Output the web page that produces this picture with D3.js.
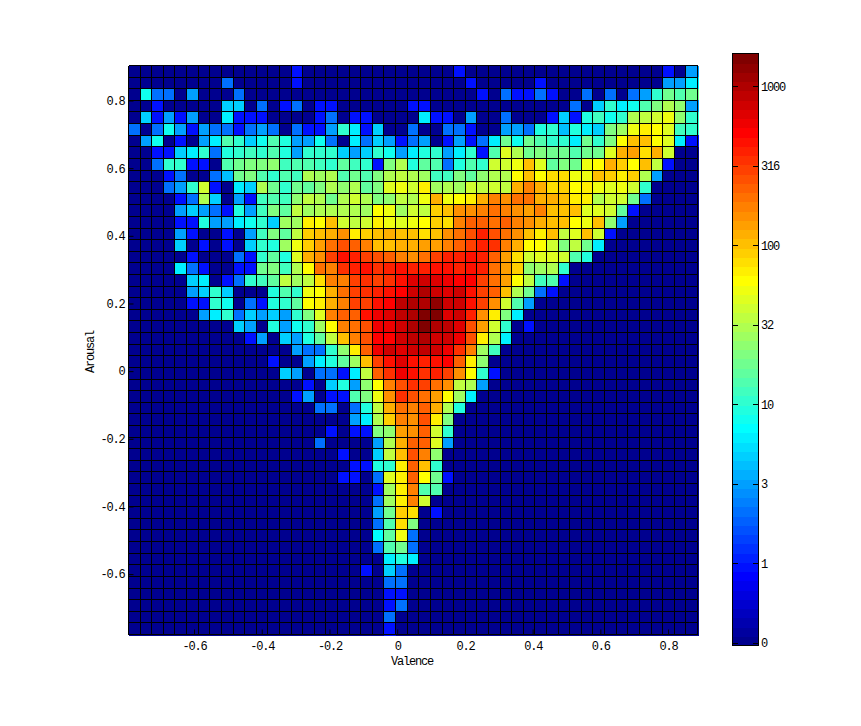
<!DOCTYPE html>
<html>
<head>
<meta charset="utf-8">
<script src="https://d3js.org/d3.v7.min.js"></script>
<style>
html, body { margin: 0; padding: 0; background: #fff; }
svg { display: block; }
text { font-family: "Liberation Mono", monospace; font-size: 12px; letter-spacing: -1.2px; fill: #000; }
</style>
</head>
<body>
<svg id="chart" width="861" height="726"></svg>
<script>
'use strict';

// counts per bin, top row first, one number per valence bin (zeros at the end of a row left out)
var arrayCounts = [
	[0,0,0,0,0,0,0,0,0,0, 0,0,0,0,1,0,0,0,0,0, 0,0,0,0,0,0,0,0,1,0, 0,0,0,0,0,0,0,0,0,0, 0,0,0,0,0,0,1,0,3],
	[0,0,0,0,0,0,0,0,2,0, 0,0,0,0,1,0,0,0,0,0, 0,0,0,0,0,0,0,0,0,1, 0,0,0,0,0,1,0,0,0,0, 0,0,0,0,0,0,3,3,6],
	[0,8,2,2,0,3,0,0,0,2, 0,0,0,0,0,0,0,0,0,0, 0,0,0,0,0,0,0,0,0,0, 1,0,2,1,1,2,1,0,0,2, 0,2,0,2,3,11,18,14,18],
	[0,0,1,0,0,0,0,0,5,5, 0,2,0,1,2,0,1,1,0,0, 0,0,0,0,1,1,0,0,0,0, 0,0,0,0,0,0,0,0,2,0, 5,11,6,8,14,20,31,24,3],
	[0,5,1,3,1,3,0,0,6,1, 1,1,0,0,0,0,1,2,0,1, 1,0,0,0,0,6,1,1,0,3, 0,0,2,0,0,0,1,5,1,9, 12,8,10,31,35,41,54,24,11],
	[2,0,2,8,3,1,3,2,2,1, 2,3,2,0,2,1,1,3,11,6, 1,5,0,0,2,0,0,2,2,1, 0,0,3,3,2,9,10,4,9,6, 5,20,27,54,71,60,48,12,11],
	[0,3,8,0,1,0,3,6,14,11, 5,8,14,9,3,3,8,2,0,6, 2,5,3,1,2,3,0,1,3,1, 2,6,18,8,18,14,10,11,6,18, 11,20,60,105,105,60,48,6,1],
	[0,0,1,1,5,6,11,2,9,11, 12,10,14,9,3,10,11,10,5,3, 5,11,8,3,6,9,11,3,6,10, 1,14,48,31,18,20,18,18,14,18, 18,48,120,135,80,115,41],
	[0,0,2,10,11,1,1,0,14,18, 20,22,24,12,14,14,12,11,16,12, 11,1,20,31,9,16,14,2,9,14, 11,41,41,54,105,48,16,20,18,54, 60,125,92,60,110,36,1],
	[0,0,0,1,2,0,0,2,4,18, 20,14,11,14,12,31,27,31,14,18, 14,20,31,36,31,27,12,12,20,16, 24,31,31,60,105,60,80,80,54,54, 100,92,71,92,31,3],
	[0,0,0,2,3,11,41,1,0,6, 5,31,18,11,18,16,20,31,24,31, 16,20,48,54,41,71,27,31,27,41, 36,41,36,120,180,120,80,92,60,71, 54,48,54,41,11],
	[0,0,0,0,1,2,31,5,0,3, 1,12,14,12,24,36,31,18,31,41, 31,20,24,36,31,54,120,54,60,71, 125,180,158,190,207,120,115,100,71,71, 31,41,41,18,2],
	[0,0,0,0,3,5,3,2,1,9, 3,12,20,16,36,27,31,31,31,31, 27,60,54,27,41,36,85,105,158,158, 180,207,180,158,135,180,105,100,105,48, 48,41,16,1],
	[0,0,0,0,1,1,9,3,3,6, 8,11,5,27,27,71,60,110,41,36, 41,71,54,48,54,60,92,80,180,240, 240,207,240,180,158,120,105,100,60,54, 100,24,3],
	[0,0,0,0,3,1,0,0,1,0, 3,12,20,16,36,92,100,120,158,71, 85,105,125,110,100,80,100,158,207,270, 400,270,207,158,110,71,100,36,48,105, 41,1],
	[0,0,0,0,5,0,1,0,1,0, 5,11,9,27,54,92,140,207,270,240, 180,110,105,120,125,135,140,180,240,310, 400,350,180,120,60,60,41,20,36,18, 6],
	[0,0,0,0,0,1,0,0,0,2, 1,10,16,9,48,120,158,310,460,400, 310,270,240,180,158,207,310,380,380,460, 400,240,140,80,41,48,48,41,14,9],
	[0,0,0,0,6,2,1,0,0,1, 1,18,20,12,31,60,207,180,350,400, 430,350,400,460,400,380,460,430,400,460, 400,207,135,92,24,27,31,11],
	[0,0,0,0,0,5,6,0,1,2, 11,12,16,36,27,36,80,180,180,310, 350,310,350,460,680,740,680,600,530,530, 310,190,140,60,36,12,14,1],
	[0,0,0,0,0,3,5,11,5,0, 0,0,9,14,11,54,60,120,207,310, 330,400,460,530,790,980,790,680,740,460, 310,240,100,31,18,2,1],
	[0,0,0,0,0,1,1,11,8,0, 2,1,9,11,16,60,71,120,180,310, 310,460,530,830,1030,1030,1340,790,740,460, 310,158,41,14,3],
	[0,0,0,0,0,0,3,6,11,2, 5,3,5,3,11,20,48,180,240,240, 460,600,680,830,980,1540,1450,680,740,400, 158,71,20,6],
	[0,0,0,0,0,0,0,0,0,5, 3,0,9,3,8,11,27,60,180,207, 270,600,600,790,1030,1450,1030,900,680,270, 135,41,11,0,1],
	[0,0,0,0,0,0,0,0,0,0, 1,3,0,5,3,9,16,36,110,180, 270,530,530,790,830,1030,790,790,600,270, 71,31,6],
	[0,0,0,0,0,0,0,0,0,0, 0,0,0,0,3,2,2,11,24,71, 240,600,740,680,740,830,790,600,350,180, 27,12],
	[0,0,0,0,0,0,0,0,0,0, 0,0,1,0,0,3,6,9,16,27, 110,310,460,680,460,400,430,530,240,71, 24],
	[0,0,0,0,0,0,0,0,0,0, 0,0,0,5,3,0,2,2,1,6, 36,240,350,600,460,350,400,310,158,60, 11,1],
	[0,0,0,0,0,0,0,0,0,0, 0,0,0,0,0,1,0,5,9,3, 24,60,180,270,350,310,190,158,36,31, 3],
	[0,0,0,0,0,0,0,0,0,0, 0,0,0,0,1,3,0,1,1,14, 20,54,158,350,270,207,135,60,27,6],
	[0,0,0,0,0,0,0,0,0,0, 0,0,0,0,0,0,2,2,0,2, 9,36,120,207,180,240,120,31,9],
	[0,0,0,0,0,0,0,0,0,0, 0,0,0,0,0,0,0,0,0,3, 6,31,92,180,158,270,71,20],
	[0,0,0,0,0,0,0,0,0,0, 0,0,0,0,0,0,0,1,0,1, 1,20,24,135,158,240,41,11],
	[0,0,0,0,0,0,0,0,0,0, 0,0,0,0,0,0,2,0,0,0, 0,3,31,120,240,240,48,3],
	[0,0,0,0,0,0,0,0,0,0, 0,0,0,0,0,0,0,0,1,0, 0,5,36,105,270,180,24],
	[0,0,0,0,0,0,0,0,0,0, 0,0,0,0,0,0,0,0,0,1, 1,9,11,71,240,100,11],
	[0,0,0,0,0,0,0,0,0,0, 0,0,0,0,0,0,0,0,1,1, 0,2,48,71,240,60,18,1],
	[0,0,0,0,0,0,0,0,0,0, 0,0,0,0,0,0,0,0,0,0, 0,1,27,71,180,14,14],
	[0,0,0,0,0,0,0,0,0,0, 0,0,0,0,0,0,0,0,0,0, 0,2,27,71,170,41],
	[0,0,0,0,0,0,0,0,0,0, 0,0,0,0,0,0,0,0,0,0, 0,3,18,92,80,0,1],
	[0,0,0,0,0,0,0,0,0,0, 0,0,0,0,0,0,0,0,0,0, 0,2,14,80,20],
	[0,0,0,0,0,0,0,0,0,0, 0,0,0,0,0,0,0,0,0,0, 0,7,16,54,2],
	[0,0,0,0,0,0,0,0,0,0, 0,0,0,0,0,0,0,0,0,0, 0,2,14,18,2],
	[0,0,0,0,0,0,0,0,0,0, 0,0,0,0,0,0,0,0,0,0, 0,0,6,9,6],
	[0,0,0,0,0,0,0,0,0,0, 0,0,0,0,0,0,0,0,0,0, 1,0,5,2],
	[0,0,0,0,0,0,0,0,0,0, 0,0,0,0,0,0,0,0,0,0, 0,0,2,2],
	[0,0,0,0,0,0,0,0,0,0, 0,0,0,0,0,0,0,0,0,0, 0,0,1,1],
	[0,0,0,0,0,0,0,0,0,0, 0,0,0,0,0,0,0,0,0,0, 0,0,1,2],
	[0,0,0,0,0,0,0,0,0,0, 0,0,0,0,0,0,0,0,0,0, 0,0,2],
	[0,0,0,0,0,0,0,0,0,0, 0,0,0,0,0,0,0,0,0,0, 0,0,1]
];

var arrayValenceDomain = [-0.7935, 0.8869];
var arrayArousalDomain = [-0.7785, 0.9035];
var arrayValenceTicks = [-0.6, -0.4, -0.2, 0, 0.2, 0.4, 0.6, 0.8];
var arrayArousalTicks = [-0.6, -0.4, -0.2, 0, 0.2, 0.4, 0.6, 0.8];

var arrayColorDomain = [0.306, 1613];
var arrayColorTicks = [0.316, 1, 3.16, 10, 31.6, 100, 316, 1000];
var arrayColorTickLabels = ['0', '1', '3', '10', '32', '100', '316', '1000'];

var nLevels = 64;
var nBins = arrayCounts.length;

var plot = {left: 128.5, right: 697.5, top: 65.5, bottom: 634.5};
var bar = {left: 732.5, right: 758, top: 53.5, bottom: 645};

function Jet(nLevel)
{
	var f = (nLevel + 1) / nLevels;
	var channel = function(fCenter)
	{
		return Math.round(255 * Math.max(0, Math.min(1, 1.5 - Math.abs(4 * f - fCenter))));
	};
	return d3.rgb(channel(3), channel(2), channel(1)).formatHex();
}

var svg = d3.select('#chart');

var xValence = d3.scaleLinear().domain(arrayValenceDomain).range([plot.left, plot.right]);
var yArousal = d3.scaleLinear().domain(arrayArousalDomain).range([plot.bottom, plot.top]);
var xBin = d3.scaleBand().domain(d3.range(nBins)).range([plot.left, plot.right]);
var yBin = d3.scaleBand().domain(d3.range(nBins)).range([plot.top, plot.bottom]);

var levelScale = d3.scaleLog().domain(arrayColorDomain).range([0, nLevels]).clamp(true);

function ColorOf(nCount)
{
	var nLevel = Math.min(nLevels - 1, Math.floor(levelScale(Math.max(nCount, arrayColorDomain[0]))));
	return Jet(nLevel);
}

// cells
var arrayCells = [];
arrayCounts.forEach(function(arrayRow, nRow)
{
	d3.range(nBins).forEach(function(nCol)
	{
		arrayCells.push({row: nRow, col: nCol, count: arrayRow[nCol] || 0});
	});
});

svg.append('g')
	.attr('shape-rendering', 'crispEdges')
	.selectAll('rect')
	.data(arrayCells)
	.enter()
	.append('rect')
	.attr('x', function(d) { return xBin(d.col); })
	.attr('y', function(d) { return yBin(d.row); })
	.attr('width', xBin.bandwidth() + 1)
	.attr('height', yBin.bandwidth() + 1)
	.attr('fill', function(d) { return ColorOf(d.count); });

// black mesh over the cells
var gridLines = svg.append('g')
	.attr('stroke', '#000')
	.attr('stroke-width', 1)
	.attr('shape-rendering', 'crispEdges');

d3.range(nBins + 1).forEach(function(n)
{
	var fX = Math.round(plot.left + n * xBin.bandwidth() - 0.5) + 0.5;
	var fY = Math.round(plot.top + n * yBin.bandwidth() - 0.5) + 0.5;
	gridLines.append('line').attr('x1', fX).attr('x2', fX).attr('y1', plot.top).attr('y2', plot.bottom);
	gridLines.append('line').attr('x1', plot.left).attr('x2', plot.right).attr('y1', fY).attr('y2', fY);
});

// axes
var axisBottom = d3.axisBottom(xValence).tickValues(arrayValenceTicks)
	.tickSize(-5).tickPadding(7).tickFormat(function(v) { return v === 0 ? '0' : String(v); });
var axisLeft = d3.axisLeft(yArousal).tickValues(arrayArousalTicks)
	.tickSize(-5).tickPadding(4).tickFormat(function(v) { return v === 0 ? '0' : String(v); });

svg.append('g').attr('transform', 'translate(0,' + plot.bottom + ')').call(axisBottom);
svg.append('g').attr('transform', 'translate(' + plot.left + ',0)').call(axisLeft);
svg.selectAll('.domain').remove();
svg.selectAll('.tick text').style('font-family', '"Liberation Mono", monospace').style('font-size', '12px');

svg.append('text')
	.attr('x', 412)
	.attr('y', 665)
	.attr('text-anchor', 'middle')
	.text('Valence');

svg.append('text')
	.attr('transform', 'translate(94,352) rotate(-90)')
	.attr('text-anchor', 'middle')
	.text('Arousal');

// colorbar
var yColor = d3.scaleLog().domain(arrayColorDomain).range([bar.bottom, bar.top]);
var yLevel = d3.scaleLinear().domain([0, nLevels]).range([bar.bottom, bar.top]);

svg.append('g')
	.attr('shape-rendering', 'crispEdges')
	.selectAll('rect')
	.data(d3.range(nLevels))
	.enter()
	.append('rect')
	.attr('x', bar.left)
	.attr('width', bar.right - bar.left)
	.attr('y', function(d) { return yLevel(d + 1); })
	.attr('height', function(d) { return yLevel(d) - yLevel(d + 1) + 1; })
	.attr('fill', function(d) { return Jet(d); });

svg.append('rect')
	.attr('x', bar.left)
	.attr('y', bar.top)
	.attr('width', bar.right - bar.left)
	.attr('height', bar.bottom - bar.top)
	.attr('fill', 'none')
	.attr('stroke', '#000')
	.attr('shape-rendering', 'crispEdges');

var axisColor = d3.axisRight(yColor).tickValues(arrayColorTicks)
	.tickSize(0).tickPadding(3)
	.tickFormat(function(v, i) { return arrayColorTickLabels[i]; });

var gColor = svg.append('g').attr('transform', 'translate(' + bar.right + ',0)').call(axisColor);
gColor.select('.domain').remove();
gColor.selectAll('.tick text').style('font-family', '"Liberation Mono", monospace').style('font-size', '12px');

// ticks on both sides of the bar
gColor.selectAll('.tick').append('line')
	.attr('x1', 0).attr('x2', -5).attr('stroke', '#000').attr('shape-rendering', 'crispEdges');
gColor.selectAll('.tick').append('line')
	.attr('x1', bar.left - bar.right).attr('x2', bar.left - bar.right + 5).attr('stroke', '#000').attr('shape-rendering', 'crispEdges');
</script>
</body>
</html>
